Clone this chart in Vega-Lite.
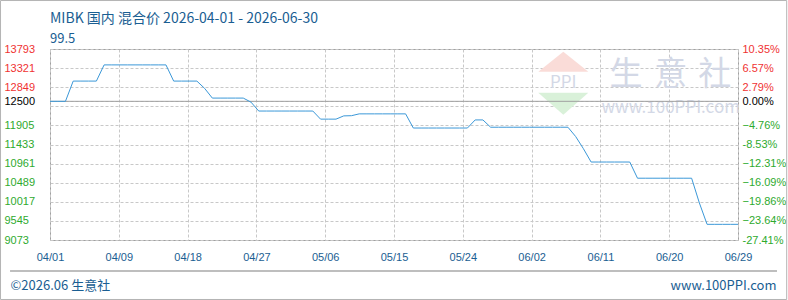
{
  "$schema": "https://vega.github.io/schema/vega-lite/v6.json",
  "width": 688,
  "height": 191,
  "autosize": {"type": "none"},
  "padding": {"left": 50, "top": 49, "right": 50, "bottom": 60},
  "background": "white",
  "title": {
    "text": "MIBK 国内 混合价 2026-04-01 - 2026-06-30",
    "subtitle": "99.5",
    "anchor": "start",
    "frame": "group",
    "offset": -46,
    "font": "Noto Sans CJK SC",
    "fontSize": 14,
    "fontWeight": "normal",
    "color": "#1a5e92",
    "subtitleFont": "Noto Sans CJK SC",
    "subtitleFontSize": 13,
    "subtitleColor": "#1a5e92",
    "subtitlePadding": 7
  },
  "config": {
    "view": {"stroke": "#a0a0a0", "strokeWidth": 1},
    "axis": {"labelFont": "Liberation Sans", "labelFontSize": 11}
  },
  "datasets": {
    "price": [
      {"date": "2026-04-01", "price": 12500},
      {"date": "2026-04-02", "price": 12500},
      {"date": "2026-04-03", "price": 12500},
      {"date": "2026-04-04", "price": 13000},
      {"date": "2026-04-05", "price": 13000},
      {"date": "2026-04-06", "price": 13000},
      {"date": "2026-04-07", "price": 13000},
      {"date": "2026-04-08", "price": 13400},
      {"date": "2026-04-09", "price": 13400},
      {"date": "2026-04-10", "price": 13400},
      {"date": "2026-04-11", "price": 13400},
      {"date": "2026-04-12", "price": 13400},
      {"date": "2026-04-13", "price": 13400},
      {"date": "2026-04-14", "price": 13400},
      {"date": "2026-04-15", "price": 13400},
      {"date": "2026-04-16", "price": 13400},
      {"date": "2026-04-17", "price": 13000},
      {"date": "2026-04-18", "price": 13000},
      {"date": "2026-04-19", "price": 13000},
      {"date": "2026-04-20", "price": 13000},
      {"date": "2026-04-21", "price": 12820},
      {"date": "2026-04-22", "price": 12580},
      {"date": "2026-04-23", "price": 12580},
      {"date": "2026-04-24", "price": 12580},
      {"date": "2026-04-25", "price": 12580},
      {"date": "2026-04-26", "price": 12580},
      {"date": "2026-04-27", "price": 12480},
      {"date": "2026-04-28", "price": 12260},
      {"date": "2026-04-29", "price": 12260},
      {"date": "2026-04-30", "price": 12260},
      {"date": "2026-05-01", "price": 12260},
      {"date": "2026-05-02", "price": 12260},
      {"date": "2026-05-03", "price": 12260},
      {"date": "2026-05-04", "price": 12260},
      {"date": "2026-05-05", "price": 12260},
      {"date": "2026-05-06", "price": 12060},
      {"date": "2026-05-07", "price": 12060},
      {"date": "2026-05-08", "price": 12060},
      {"date": "2026-05-09", "price": 12140},
      {"date": "2026-05-10", "price": 12145},
      {"date": "2026-05-11", "price": 12190},
      {"date": "2026-05-12", "price": 12190},
      {"date": "2026-05-13", "price": 12190},
      {"date": "2026-05-14", "price": 12190},
      {"date": "2026-05-15", "price": 12190},
      {"date": "2026-05-16", "price": 12190},
      {"date": "2026-05-17", "price": 12190},
      {"date": "2026-05-18", "price": 11840},
      {"date": "2026-05-19", "price": 11840},
      {"date": "2026-05-20", "price": 11840},
      {"date": "2026-05-21", "price": 11840},
      {"date": "2026-05-22", "price": 11840},
      {"date": "2026-05-23", "price": 11840},
      {"date": "2026-05-24", "price": 11840},
      {"date": "2026-05-25", "price": 11840},
      {"date": "2026-05-26", "price": 12040},
      {"date": "2026-05-27", "price": 12040},
      {"date": "2026-05-28", "price": 11860},
      {"date": "2026-05-29", "price": 11860},
      {"date": "2026-05-30", "price": 11860},
      {"date": "2026-05-31", "price": 11860},
      {"date": "2026-06-01", "price": 11860},
      {"date": "2026-06-02", "price": 11860},
      {"date": "2026-06-03", "price": 11860},
      {"date": "2026-06-04", "price": 11860},
      {"date": "2026-06-05", "price": 11860},
      {"date": "2026-06-06", "price": 11860},
      {"date": "2026-06-07", "price": 11860},
      {"date": "2026-06-08", "price": 11630},
      {"date": "2026-06-09", "price": 11330},
      {"date": "2026-06-10", "price": 11000},
      {"date": "2026-06-11", "price": 11000},
      {"date": "2026-06-12", "price": 11000},
      {"date": "2026-06-13", "price": 11000},
      {"date": "2026-06-14", "price": 11000},
      {"date": "2026-06-15", "price": 11000},
      {"date": "2026-06-16", "price": 10600},
      {"date": "2026-06-17", "price": 10600},
      {"date": "2026-06-18", "price": 10600},
      {"date": "2026-06-19", "price": 10600},
      {"date": "2026-06-20", "price": 10600},
      {"date": "2026-06-21", "price": 10600},
      {"date": "2026-06-22", "price": 10600},
      {"date": "2026-06-23", "price": 10600},
      {"date": "2026-06-24", "price": 9990},
      {"date": "2026-06-25", "price": 9460},
      {"date": "2026-06-26", "price": 9460},
      {"date": "2026-06-27", "price": 9460},
      {"date": "2026-06-28", "price": 9460},
      {"date": "2026-06-29", "price": 9460}
    ]
  },
  "encoding": {
    "x": {
      "field": "date",
      "type": "temporal",
      "scale": {"type": "utc", "domain": [1775001600000, 1782691200000]},
      "axis": {
        "values": [1775001600000, 1775770560000, 1776539520000, 1777308480000, 1778077440000, 1778846400000, 1779615360000, 1780384320000, 1781153280000, 1781922240000, 1782691200000],
        "labelExpr": "utcFormat(datum.value, '%m/%d')",
        "grid": true,
        "gridDash": [3, 2],
        "gridColor": "#c8c8c8",
        "domain": false,
        "offset": 31,
        "ticks": false,
        "tickSize": 0,
        "labelFlush": false,
        "labelColor": "#1a5e92",
        "labelPadding": -20,
        "title": null
      }
    }
  },
  "layer": [
    {
      "data": {"values": [{"date": "2026-03-25T14:24:00Z", "date2": "2026-07-05T07:12:00Z", "price": 14991, "price2": 7603}]},
      "mark": {"type": "rect", "fillOpacity": 0, "stroke": "#b4b4b4", "strokeWidth": 1},
      "encoding": {
        "x2": {"field": "date2"},
        "y": {"field": "price", "type": "quantitative", "scale": {"domain": [9073, 13793], "nice": false, "zero": false}, "axis": null},
        "y2": {"field": "price2"}
      }
    },
    {
      "data": {"values": [{"date": "2026-03-26T20:00:00Z", "date2": "2026-07-04T01:00:00Z", "price": 8307}]},
      "mark": {"type": "rule", "color": "#a8a8a8", "strokeWidth": 1.5},
      "encoding": {
        "x2": {"field": "date2"},
        "y": {"field": "price", "type": "quantitative", "scale": {"domain": [9073, 13793], "nice": false, "zero": false}, "axis": null}
      }
    },
    {
      "data": {"values": [{"date": "2026-06-06T09:36:00Z", "price": 13479}]},
      "mark": {"type": "point", "filled": true, "shape": "M-1,0.4L0,-0.4L1,0.4Z", "size": 2500, "color": "#fadcd8", "opacity": 1},
      "encoding": {
        "y": {"field": "price", "type": "quantitative", "scale": {"domain": [9073, 13793], "nice": false, "zero": false}, "axis": null}
      }
    },
    {
      "data": {"values": [{"date": "2026-06-06T09:36:00Z", "price": 12440}]},
      "mark": {"type": "point", "filled": true, "shape": "M-1,-0.44L1,-0.44L0,0.44Z", "size": 2500, "color": "#d9f1d9", "opacity": 1},
      "encoding": {
        "y": {"field": "price", "type": "quantitative", "scale": {"domain": [9073, 13793], "nice": false, "zero": false}, "axis": null}
      }
    },
    {
      "data": {"values": [{"date": "2026-06-06T09:36:00Z", "price": 12959, "label": "PPI"}, {"date": "2026-06-14T12:00:00Z", "price": 13157, "label": "生"}, {"date": "2026-06-20T07:00:00Z", "price": 13157, "label": "意"}, {"date": "2026-06-26T00:00:00Z", "price": 13157, "label": "社"}, {"date": "2026-06-20T07:00:00Z", "price": 12330, "label": "www.100PPI.com"}]},
      "mark": {"type": "text", "font": "Noto Sans CJK SC", "color": "#d3d8e6", "baseline": "middle", "align": "center"},
      "encoding": {
        "y": {"field": "price", "type": "quantitative", "scale": {"domain": [9073, 13793], "nice": false, "zero": false}, "axis": null},
        "text": {"field": "label"},
        "size": {"condition": {"test": "length(datum.label) == 1", "value": 33}, "value": 17},
        "fontWeight": {"condition": {"test": "datum.label == 'www.100PPI.com'", "value": "normal"}, "value": "bold"}
      }
    },
    {
      "data": {"values": [{"base": 12500}]},
      "mark": {"type": "rule", "color": "#a0a0a0", "strokeWidth": 1},
      "encoding": {
        "x": null,
        "y": {
          "field": "base",
          "type": "quantitative",
          "scale": {"domain": [9073, 13793], "nice": false, "zero": false},
          "axis": {
            "orient": "right",
            "values": [9073, 9545, 10017, 10489, 10961, 11433, 11905, 12500, 12849, 13321, 13793],
            "labelExpr": "datum.value == 13793 ? '10.35%' : datum.value == 11433 ? '-8.53%' : datum.value == 9073 ? '-27.41%' : format((datum.value - 12500) / 125, '.2f') + '%'",
            "grid": false,
            "domain": false,
            "ticks": false,
            "tickSize": 0,
            "labelAlign": "left",
            "labelPadding": 4,
            "labelColor": {"condition": [{"test": "datum.value > 12500", "value": "#f03232"}, {"test": "datum.value < 12500", "value": "#2eaa2e"}], "value": "#000000"},
            "title": "www.100PPI.com",
            "titleAngle": 0,
            "titleAlign": "right",
            "titleBaseline": "middle",
            "titleX": 38,
            "titleY": 236,
            "titleFont": "Noto Sans CJK SC",
            "titleFontSize": 13,
            "titleFontWeight": "normal",
            "titleColor": "#1a5e92"
          }
        }
      }
    },
    {
      "data": {"name": "price"},
      "mark": {"type": "line", "color": "#3b98d8", "strokeWidth": 1},
      "encoding": {
        "y": {
          "field": "price",
          "type": "quantitative",
          "scale": {"domain": [9073, 13793], "nice": false, "zero": false},
          "axis": {
            "orient": "left",
            "values": [9073, 9545, 10017, 10489, 10961, 11433, 11905, 12377, 12500, 12849, 13321, 13793],
            "format": "d",
            "labelExpr": "datum.value == 12377 ? '' : datum.label",
            "grid": true,
            "gridDash": [3, 2],
            "gridColor": "#c8c8c8",
            "domain": false,
            "ticks": false,
            "tickSize": 0,
            "labelAlign": "left",
            "labelPadding": 46,
            "labelColor": {"condition": [{"test": "datum.value > 12500", "value": "#f03232"}, {"test": "datum.value < 12500", "value": "#2eaa2e"}], "value": "#000000"},
            "title": "©2026.06 生意社",
            "titleAngle": 0,
            "titleAlign": "left",
            "titleBaseline": "middle",
            "titleX": -40,
            "titleY": 236,
            "titleFont": "Noto Sans CJK SC",
            "titleFontSize": 13,
            "titleFontWeight": "normal",
            "titleColor": "#1a5e92"
          }
        }
      }
    }
  ],
  "resolve": {"scale": {"y": "independent"}}
}
